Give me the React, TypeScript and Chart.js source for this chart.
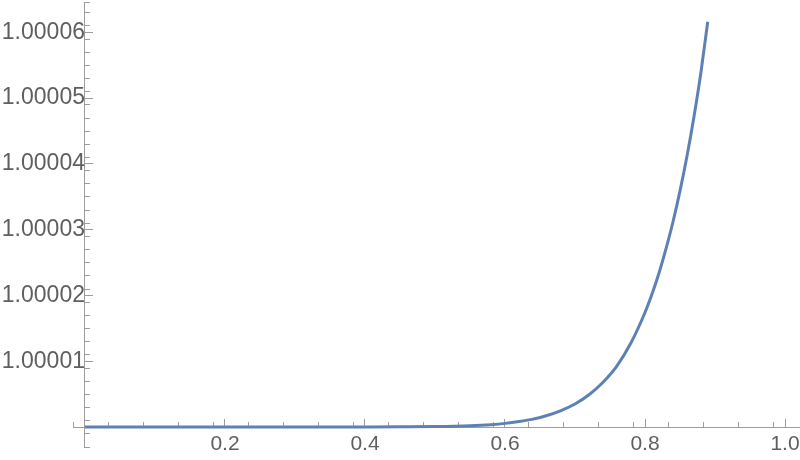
import { useEffect, useRef } from 'react';
import { Chart, registerables } from 'chart.js';

Chart.register(...registerables);

// Curve samples
const xValues = [0, 0.1, 0.2, 0.3, 0.4, 0.45, 0.5, 0.55, 0.58, 0.6, 0.62, 0.64, 0.66, 0.68, 0.7, 0.72, 0.74, 0.76, 0.78, 0.8, 0.81, 0.82, 0.83, 0.84, 0.85, 0.86, 0.87, 0.88, 0.8896];
const yValues = [1, 1, 1, 1, 1.000000004, 1.00000002, 1.00000006, 1.00000019, 1.00000036, 1.00000055, 1.00000083, 1.0000012, 1.00000175, 1.0000025, 1.0000035, 1.0000049, 1.0000068, 1.0000093, 1.0000128, 1.0000174, 1.0000202, 1.0000234, 1.0000271, 1.0000312, 1.0000359, 1.0000412, 1.0000472, 1.000054, 1.0000616];

// Axes
const xTickValues = [0.2, 0.4, 0.6, 0.8, 1.0];
const xTickLabels = ['0.2', '0.4', '0.6', '0.8', '1.0'];
const yTickValues = [1.00001, 1.00002, 1.00003, 1.00004, 1.00005, 1.00006];
const yTickLabels = ['1.00001', '1.00002', '1.00003', '1.00004', '1.00005', '1.00006'];
const xRange = [-0.0171, 1.0214];
const yRange = [0.99999696, 1.0000646];
const xMinorStep = 0.05;
const yMinorStep = 0.000002;

const AXIS = '#9d9d9d';
const LABEL = '#5f5f5f';
const XFONT = { family: "'Liberation Sans', Arial, sans-serif", size: 21 };
const YFONT = { family: "'Liberation Sans', Arial, sans-serif", size: 23 };

const zeroSize = (s: any) => {
  if (s.isHorizontal()) s.height = 0;
  else s.width = 0;
  s.paddingTop = 0;
  s.paddingBottom = 0;
  s.paddingLeft = 0;
  s.paddingRight = 0;
};

export default function App() {
  const ref = useRef<HTMLCanvasElement | null>(null);
  useEffect(() => {
    if (!ref.current) return;
    const chart = new Chart(ref.current, {
      type: 'line',
      data: {
        datasets: [
          {
            data: xValues.map((x, i) => ({ x, y: yValues[i] })),
            xAxisID: 'x',
            yAxisID: 'y',
            borderColor: '#5E81B5',
            borderWidth: 3,
            pointRadius: 0,
            fill: false,
            cubicInterpolationMode: 'monotone',
          },
        ],
      },
      options: {
        animation: false,
        responsive: false,
        devicePixelRatio: 1,
        layout: { padding: { left: 73, right: 0, top: 2, bottom: 13 } },
        plugins: { legend: { display: false }, tooltip: { enabled: false } },
        events: [],
        scales: {
          x: {
            type: 'linear',
            axis: 'x',
            min: xRange[0],
            max: xRange[1],
            bounds: 'data',
            position: { y: 1 },
            afterBuildTicks: (s: any) => {
              s.ticks = xTickValues.map((v) => ({ value: v }));
            },
            afterFit: zeroSize,
            ticks: {
              autoSkip: false,
              maxRotation: 0,
              font: XFONT,
              color: LABEL,
              padding: 14,
              callback: (_v: any, i: number) => xTickLabels[i],
            },
            grid: { drawOnChartArea: false, drawTicks: true, tickLength: -9, tickColor: AXIS, tickWidth: 1 },
            border: { display: true, color: AXIS, width: 1 },
          },
          xMinor: {
            type: 'linear',
            axis: 'x',
            min: xRange[0],
            max: xRange[1],
            bounds: 'data',
            position: { y: 1 },
            afterFit: zeroSize,
            ticks: { display: false, stepSize: xMinorStep, includeBounds: false },
            grid: { drawOnChartArea: false, drawTicks: true, tickLength: -5, tickColor: AXIS, tickWidth: 1 },
            border: { display: false },
          },
          y: {
            type: 'linear',
            axis: 'y',
            min: yRange[0],
            max: yRange[1],
            bounds: 'data',
            position: { x: 0 },
            afterBuildTicks: (s: any) => {
              s.ticks = yTickValues.map((v) => ({ value: v }));
            },
            afterFit: zeroSize,
            ticks: {
              autoSkip: false,
              font: YFONT,
              color: LABEL,
              padding: 16,
              callback: (_v: any, i: number) => yTickLabels[i],
            },
            grid: { drawOnChartArea: false, drawTicks: true, tickLength: -9, tickColor: AXIS, tickWidth: 1 },
            border: { display: true, color: AXIS, width: 1 },
          },
          yMinor: {
            type: 'linear',
            axis: 'y',
            min: yRange[0],
            max: yRange[1],
            bounds: 'data',
            position: { x: 0 },
            afterFit: zeroSize,
            ticks: { display: false, stepSize: yMinorStep, includeBounds: false },
            grid: { drawOnChartArea: false, drawTicks: true, tickLength: -5, tickColor: AXIS, tickWidth: 1 },
            border: { display: false },
          },
        },
      } as any,
    });
    return () => chart.destroy();
  }, []);
  return (
    <div style={{ position: 'fixed', left: 0, top: 0, width: 800, height: 460, background: '#fff' }}>
      <canvas ref={ref} width={800} height={460} style={{ display: 'block' }} />
    </div>
  );
}
